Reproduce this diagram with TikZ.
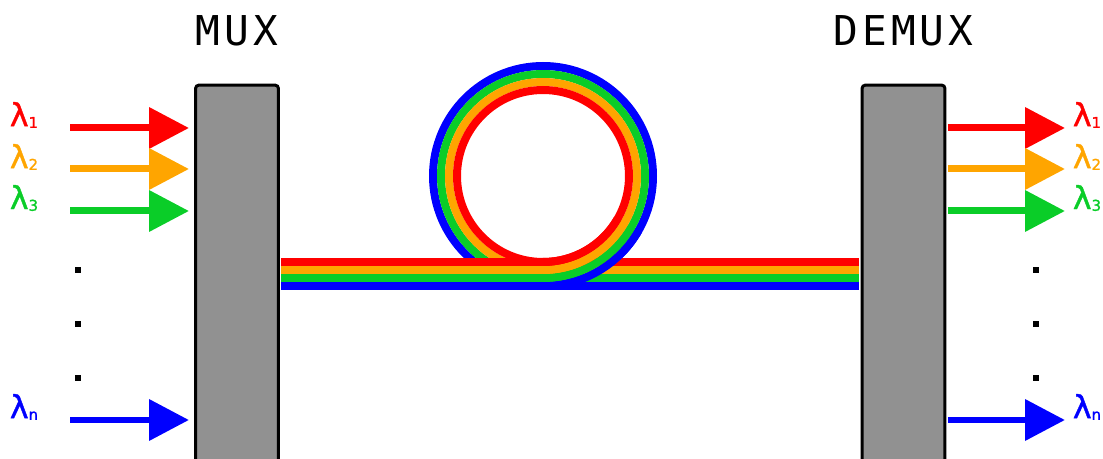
\documentclass[tikz,border=0pt]{standalone}
\usepackage{fontspec}
\usetikzlibrary{arrows.meta, positioning}
\newfontfamily\titlefont[LetterSpace=10]{DejaVu Sans Mono}
\newfontfamily\lamfont[FakeBold=1.2]{DejaVu Sans}
\definecolor{wred}{RGB}{255,0,0}
\definecolor{worange}{RGB}{255,165,0}
\definecolor{wgreen}{RGB}{10,205,40}
\definecolor{wblue}{RGB}{0,0,255}
\definecolor{boxgray}{RGB}{145,145,145}
\newcommand{\wl}[1]{λ\raisebox{-1pt}{\fontsize{8.5}{9}\selectfont #1}}
\tikzset{
  unit/.style={draw, line width=0.06cm, rounded corners=2pt, fill=boxgray, minimum width=1.66cm, minimum height=8cm},
  muxtitle/.style={font=\titlefont\fontsize{23.4}{28}\selectfont, inner sep=0pt},
  lam/.style={font=\lamfont\fontsize{18}{20}\selectfont, inner sep=0pt},
  arr/.style={-{Triangle[length=0.8cm, width=0.8cm]}, line width=0.14cm},
  fibre/.style={line width=0.16cm},
  vdot/.style={fill=black, inner sep=0pt, minimum size=0.12cm},
}

\begin{document}
\begin{tikzpicture}[x=0.02cm, y=0.02cm]
    \useasboundingbox (0,0) rectangle (1103,-459);
    \clip (0,0) rectangle (1103,-459);

    % mux / demux
    \node[unit] (mux) at (237,-285) {};
    \node[unit] (demux) at (903.5,-285) {};
    \node[muxtitle, above=0.74cm of mux] (muxlbl) {MUX};
    \node[muxtitle, above=0.74cm of demux] (demuxlbl) {DEMUX};

    % fibre loop
    \coordinate (loop) at (543,-176);
    \draw[fibre, wblue] (loop) circle[radius=110];
    \draw[fibre, wgreen] (loop) circle[radius=102];
    \draw[fibre, worange] (loop) circle[radius=94];
    \draw[fibre, wred] (loop) circle[radius=86];

    % straight fibre
    \draw[fibre, wblue] ([xshift=0.03cm]mux.east |- 0,-286) -- ([xshift=-0.03cm]demux.west |- 0,-286);
    \draw[fibre, wgreen] ([xshift=0.03cm]mux.east |- 0,-278) -- ([xshift=-0.03cm]demux.west |- 0,-278);
    \draw[fibre, worange] ([xshift=0.03cm]mux.east |- 0,-270) -- ([xshift=-0.03cm]demux.west |- 0,-270);
    \draw[fibre, wred] ([xshift=0.03cm]mux.east |- 0,-262) -- ([xshift=-0.03cm]demux.west |- 0,-262);

    % loop crosses over the fibre on the right
    \draw[fibre, wblue] (loop) ++(-90:110) arc[start angle=-90, end angle=-30, radius=110];
    \draw[fibre, wgreen] (loop) ++(-90:102) arc[start angle=-90, end angle=-30, radius=102];
    \draw[fibre, worange] (loop) ++(-90:94) arc[start angle=-90, end angle=-30, radius=94];
    \draw[fibre, wred] (loop) ++(-90:86) arc[start angle=-90, end angle=-30, radius=86];

    % inputs
    \coordinate (in1) at (70,-128);
    \coordinate (in2) at (70,-169);
    \coordinate (in3) at (70,-211);
    \coordinate (inn) at (70,-420);
    \draw[arr, wred, shorten >=0.1cm] (in1) -- (in1 -| mux.west);
    \draw[arr, worange, shorten >=0.1cm] (in2) -- (in2 -| mux.west);
    \draw[arr, wgreen, shorten >=0.1cm] (in3) -- (in3 -| mux.west);
    \draw[arr, wblue, shorten >=0.1cm] (inn) -- (inn -| mux.west);
    \node[lam, wred] (l1) at (24,-115) {\wl{1}};
    \node[lam, worange] (l2) at (24,-157) {\wl{2}};
    \node[lam, wgreen] (l3) at (24,-198) {\wl{3}};
    \node[lam, wblue] (ln) at (24,-407) {\wl{n}};
    \node[vdot] (ld1) at (78,-270) {};
    \node[vdot] (ld2) at (78,-324) {};
    \node[vdot] (ld3) at (78,-378) {};

    % outputs
    \coordinate (out1) at (1065,-128);
    \coordinate (out2) at (1065,-169);
    \coordinate (out3) at (1065,-211);
    \coordinate (outn) at (1065,-420);
    \draw[arr, wred, shorten <=0.03cm] (demux.east |- out1) -- (out1);
    \draw[arr, worange, shorten <=0.03cm] (demux.east |- out2) -- (out2);
    \draw[arr, wgreen, shorten <=0.03cm] (demux.east |- out3) -- (out3);
    \draw[arr, wblue, shorten <=0.03cm] (demux.east |- outn) -- (outn);
    \node[lam, wred] (r1) at (1087,-115) {\wl{1}};
    \node[lam, worange] (r2) at (1087,-157) {\wl{2}};
    \node[lam, wgreen] (r3) at (1087,-198) {\wl{3}};
    \node[lam, wblue] (rn) at (1087,-407) {\wl{n}};
    \node[vdot] (rd1) at (1036,-270) {};
    \node[vdot] (rd2) at (1036,-324) {};
    \node[vdot] (rd3) at (1036,-378) {};
\end{tikzpicture}
\end{document}
